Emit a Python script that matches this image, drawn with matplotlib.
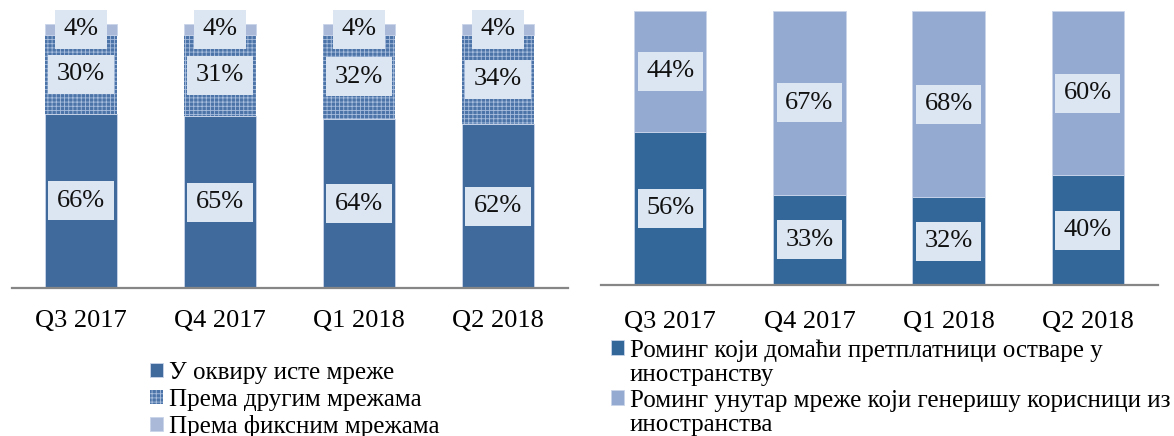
import matplotlib
matplotlib.use('Agg')
from matplotlib import pyplot as plt

quarters = ['Q3 2017', 'Q4 2017', 'Q1 2018', 'Q2 2018']

# left chart - traffic by destination
same_net = [66, 65, 64, 62]
other_net = [30, 31, 32, 34]
fixed_net = [4, 4, 4, 4]
left_labels = ['У оквиру исте мреже', 'Према другим мрежама', 'Према фиксним мрежама']

# right chart - roaming
roam_out = [56, 33, 32, 40]
roam_in = [44, 67, 68, 60]
right_labels = ['Роминг који домаћи претплатници остваре у', 'иностранству',
                'Роминг унутар мреже који генеришу корисници из', 'иностранства']

plt.rcParams['font.family'] = ['Liberation Serif', 'DejaVu Serif']
plt.rcParams['hatch.linewidth'] = 0.6

W, H = 1174, 436
fig = plt.figure(figsize=(W / 100, H / 100), dpi=100)

box = dict(boxstyle='square,pad=0.32', facecolor='#DCE6F2', edgecolor='none')
x = range(len(quarters))


def label_segments(ax, bottoms, values):
    for i, (b, v) in enumerate(zip(bottoms, values)):
        ax.text(i, b + v / 2, f'{v}%', ha='center', va='center', fontsize=19,
                color='#111111', bbox=box, clip_on=False, zorder=5)


def style(ax, pad):
    ax.set_xlim(-0.5, len(quarters) - 0.5)
    ax.set_ylim(0, 100)
    for s in ['top', 'right', 'left']:
        ax.spines[s].set_visible(False)
    ax.spines['bottom'].set_color('#868686')
    ax.spines['bottom'].set_linewidth(1.6)
    ax.set_yticks([])
    ax.set_xticks(list(x))
    ax.set_xticklabels(quarters, fontsize=19)
    ax.tick_params(axis='x', length=0, pad=pad)


# ---- left
ax1 = fig.add_axes([11.5 / W, 1 - 288 / H, 556 / W, 264 / H])
b1 = ax1.bar(x, same_net, width=0.52, color='#406A9B', edgecolor='#C9D5EA', linewidth=0.6)
bot2 = same_net
b2 = ax1.bar(x, other_net, width=0.52, bottom=bot2, color='#4C74A8', edgecolor='#A9BEDD',
             linewidth=0, hatch='++++')
bot3 = [a + b for a, b in zip(same_net, other_net)]
b3 = ax1.bar(x, fixed_net, width=0.52, bottom=bot3, color='#AAB9D8', edgecolor='#C9D5EA', linewidth=0.6)
label_segments(ax1, [0] * 4, same_net)
label_segments(ax1, bot2, other_net)
label_segments(ax1, bot3, fixed_net)
style(ax1, 16)

fig.legend([b1, b2, b3], left_labels, loc='upper left', bbox_to_anchor=(150 / W, 1 - 362 / H),
           frameon=False, fontsize=18, handlelength=0.5, handleheight=0.5, handletextpad=0.25,
           labelspacing=0.18, borderpad=0, borderaxespad=0)

# ---- right
ax2 = fig.add_axes([600.5 / W, 1 - 285 / H, 557 / W, 274 / H])
r1 = ax2.bar(x, roam_out, width=0.52, color='#336699', edgecolor='#C9D5EA', linewidth=0.6)
r2 = ax2.bar(x, roam_in, width=0.52, bottom=roam_out, color='#95AAD0', edgecolor='#C9D5EA', linewidth=0.6)
label_segments(ax2, [0] * 4, roam_out)
label_segments(ax2, roam_out, roam_in)
style(ax2, 19)

blank = plt.Rectangle((0, 0), 1, 1, facecolor='none', edgecolor='none')
fig.legend([r1, blank, r2, blank], right_labels, loc='upper left',
           bbox_to_anchor=(611 / W, 1 - 339 / H),
           frameon=False, fontsize=18, handlelength=0.5, handleheight=0.5, handletextpad=0.25,
           labelspacing=0.12, borderpad=0, borderaxespad=0)

fig.savefig('out.png', dpi=100)
